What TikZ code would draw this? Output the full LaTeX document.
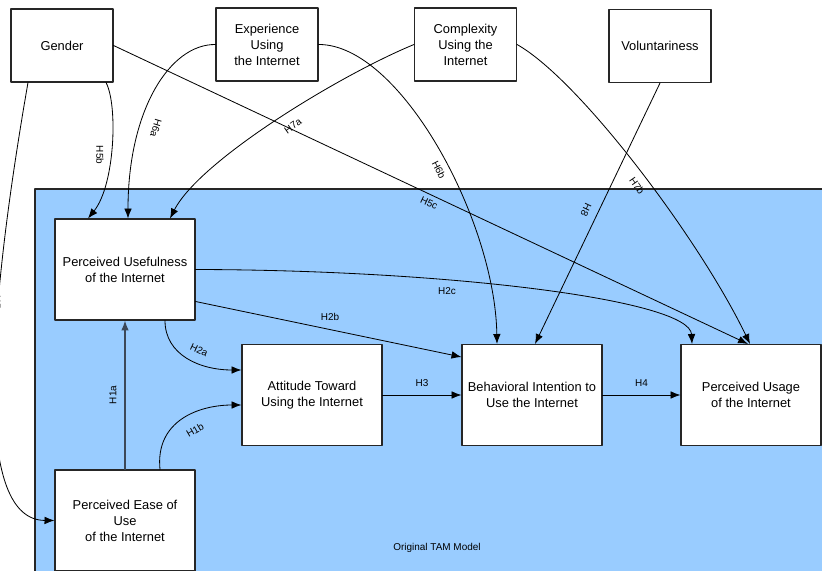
\documentclass[tikz,border=0pt]{standalone}
\usepackage{fontspec}
\setmainfont{Liberation Sans}
\usetikzlibrary{arrows.meta,calc}
\definecolor{panelblue}{RGB}{153,204,255}
\definecolor{slateline}{RGB}{60,72,88}
\begin{document}
\begin{tikzpicture}[x=0.03cm, y=-0.03cm, line cap=round, line join=round, >={Latex[length=8.5pt,width=6.5pt]},
	box/.style={draw=black!85, line width=0.9pt, fill=white, align=center, font=\fontsize{11}{13.6}\selectfont, minimum width=4.2cm, minimum height=3.03cm, inner sep=1pt},
	topbox/.style={box, minimum width=3.06cm, minimum height=2.19cm},
	arr/.style={->, line width=0.7pt},
	lbl/.style={font=\fontsize{8.5}{10}\selectfont, inner sep=0pt}]
	\useasboundingbox (0,0) rectangle (822,571);
	% the TAM panel
	\fill[panelblue] (35,189) rectangle (840,590);
	\draw[line width=0.9pt, black!85] (35,590)--(35,189)--(840,189);
	\node[lbl] (tam) at (437,548) {Original TAM Model};
	% outside variables
	\node[topbox] (gender) at (62,45.5) {Gender};
	\node[topbox] (exper) at (267,44.5) {Experience\\Using\\the Internet};
	\node[topbox] (compl) at (465.5,44.5) {Complexity\\Using the\\Internet};
	\node[topbox] (volun) at (660,46) {Voluntariness};
	% model boxes
	\node[box] (pu) at (125,269.5) {Perceived Usefulness\\of the Internet};
	\node[box] (peou) at (125,520.5) {Perceived Ease of\\Use\\of the Internet};
	\node[box] (att) at (312,395) {Attitude Toward\\Using the Internet};
	\node[box] (bi) at (532,395) {Behavioral Intention to\\Use the Internet};
	\node[box] (usage) at (751,395) {Perceived Usage\\of the Internet};
	% original TAM paths
	\draw[->, line width=1.1pt, slateline] (peou.north)--(pu.south) node[lbl, black, rotate=90] at (113,395) {H1a};
	\draw[arr] ($(peou.north)+(35,0)$) .. controls (155,420) and (200,405) .. ($(att.west)+(0,10)$) node[lbl, rotate=30] at (195,430) {H1b};
	\draw[arr] ($(pu.south)+(40,0)$) .. controls (165,355) and (200,370) .. ($(att.west)+(0,-25)$) node[lbl, rotate=-25] at (199,350) {H2a};
	\draw[arr] ($(pu.east)+(0,32)$)--($(bi.west)+(0,-38)$) node[lbl] at (330,317) {H2b};
	\draw[arr] (pu.east) .. controls (450,270) and (690,300) .. ($(usage.north)+(-59,0)$) node[lbl] at (447,291) {H2c};
	\draw[arr] (att.east)--(bi.west) node[lbl, midway, above=7pt] {H3};
	\draw[arr] (bi.east)--(usage.west) node[lbl, midway, above=7pt] {H4};
	% external variables
	\draw[arr] ($(gender.south)+(-34,0)$) .. controls (-15,330) and (-25,520) .. (peou.west) node[lbl, rotate=-90] at (-3,305) {H5a};
	\draw[arr] ($(gender.south)+(44,0)$) .. controls (118,105) and (115,185) .. ($(pu.north)+(-37,0)$) node[lbl, rotate=-90] at (100,155) {H5b};
	\draw[arr] (gender.east)--($(usage.north)+(-3,0)$) node[lbl, rotate=-25] at (429,203) {H5c};
	\draw[arr] (exper.west) .. controls (170,44) and (128,110) .. ($(pu.north)+(3,0)$) node[lbl, rotate=-107] at (156,128) {H6a};
	\draw[arr] (exper.east) .. controls (400,44) and (495,220) .. ($(bi.north)+(-35,0)$) node[lbl, rotate=-63] at (439,170) {H6b};
	\draw[arr] (compl.west) .. controls (340,75) and (200,160) .. ($(pu.north)+(45,0)$) node[lbl, rotate=35] at (293,126) {H7a};
	\draw[arr] (compl.east) .. controls (580,80) and (700,240) .. ($(usage.north)+(-1,0)$) node[lbl, rotate=-55] at (637,186) {H7b};
	\draw[arr] (volun.south)--($(bi.north)+(3,0)$) node[lbl, rotate=-115] at (586,210) {H8};
\end{tikzpicture}
\end{document}
